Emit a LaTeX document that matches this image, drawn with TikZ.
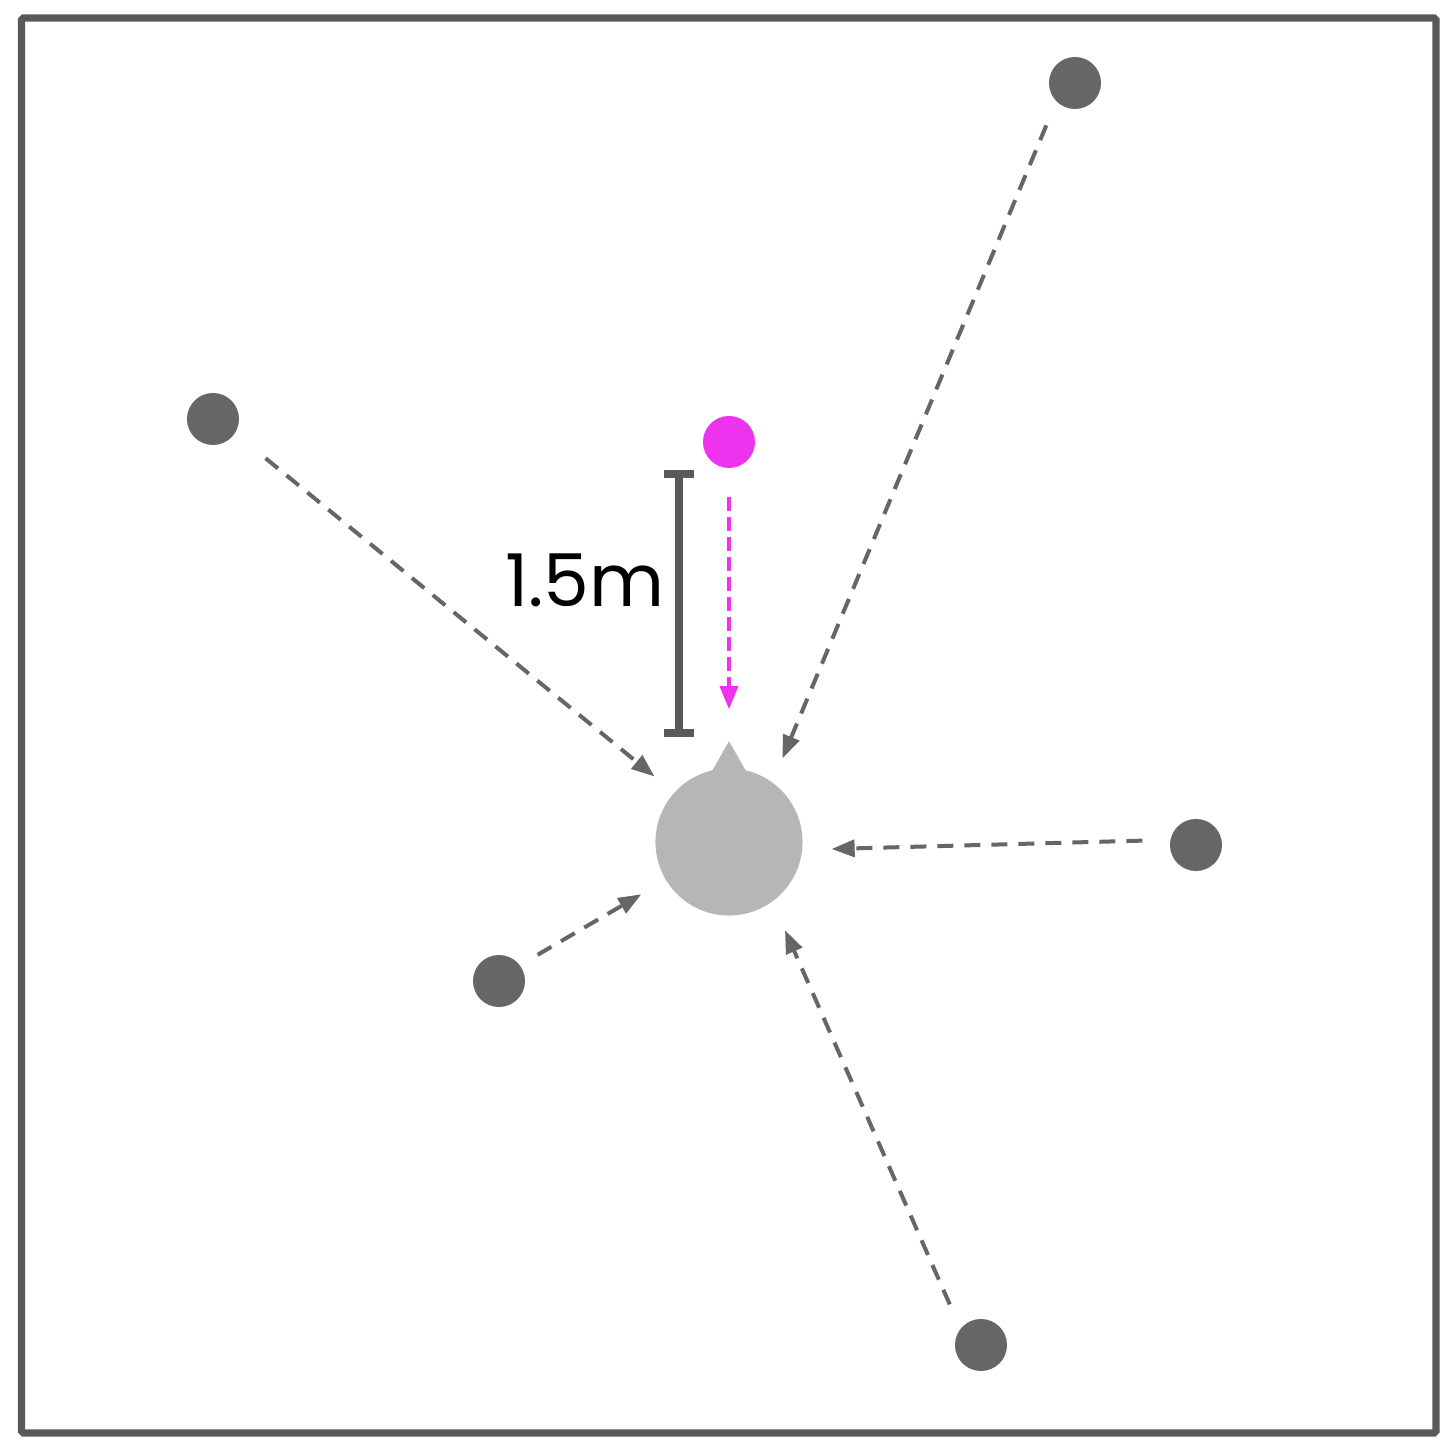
\documentclass[tikz,border=0pt]{standalone}
\usepackage{fontspec}
\setmainfont{Poppins}
\usepackage{tikz}
\usetikzlibrary{arrows.meta, positioning}
\definecolor{dotgray}{HTML}{666666}
\definecolor{bargray}{HTML}{595959}
\definecolor{hubgray}{HTML}{B6B6B6}
\definecolor{tagpink}{RGB}{238,51,238}

\begin{document}
\begin{tikzpicture}[
    x=0.01cm, y=-0.01cm,
    font=\fontsize{20.7}{24}\selectfont,
    dot/.style={circle, fill=dotgray, inner sep=0pt, minimum size=0.52cm},
    hub/.style={circle, fill=hubgray, inner sep=0pt, minimum size=1.47cm},
    signal/.style={dotgray, line width=1.14pt, dash pattern=on 4.55pt off 3.13pt, -{Triangle[length=0.23cm, width=0.17cm]}},
    probe/.style={tagpink, line width=1pt, dash pattern=on 4pt off 1.7pt, -{Triangle[length=0.23cm, width=0.18cm]}},
    scalebar/.style={bargray, line width=2.3pt, {Bar[width=0.3cm]}-{Bar[width=0.3cm]}}
]
    \useasboundingbox (0,0) rectangle (1456,1452);
    \draw[bargray, line width=2pt, rounded corners=0.5pt] (21.5,18) rectangle (1436,1433);

    % Nodes
    \node[hub] (hub) at (729,842) {};
    \coordinate (tip) at ([yshift=0.265cm]hub.north);
    \fill[hubgray] ([xshift=-0.274cm, yshift=-0.215cm]hub.north) -- (tip) -- ([xshift=0.274cm, yshift=-0.215cm]hub.north) -- cycle;
    \node[circle, fill=tagpink, inner sep=0pt, minimum size=0.52cm] (tag) at (729,442) {};
    \node[dot] (ne) at (1075,83) {};
    \node[dot] (nw) at (213,419) {};
    \node[dot] (ea) at (1196,845) {};
    \node[dot] (sw) at (499,981) {};
    \node[dot] (so) at (981,1345) {};

    % Connections
    \draw[signal, shorten <=0.254cm, shorten >=0.255cm] (ne.225.6) -- (hub.54);
    \draw[signal, shorten <=0.39cm, shorten >=0.25cm] (nw.-33.2) -- (hub.138);
    \draw[signal, shorten <=0.274cm, shorten >=0.288cm] (ea.169.6) -- (hub.-6);
    \draw[signal, shorten <=0.2cm, shorten >=0.278cm] (sw.37.7) -- (hub.211.1);
    \draw[signal, shorten <=0.26cm, shorten >=0.307cm] (so.141.7) -- (hub.-54.6);
    \draw[probe, shorten <=0.28cm, shorten >=0.32cm] (tag) -- (tip);

    % Labels
    \coordinate (bartop) at (679,470);
    \coordinate (barbot) at (679,737);
    \draw[scalebar] (bartop) -- (barbot);
    \node[anchor=base east, inner sep=0pt] (dist) at (665,607) {1.5m};
\end{tikzpicture}
\end{document}
